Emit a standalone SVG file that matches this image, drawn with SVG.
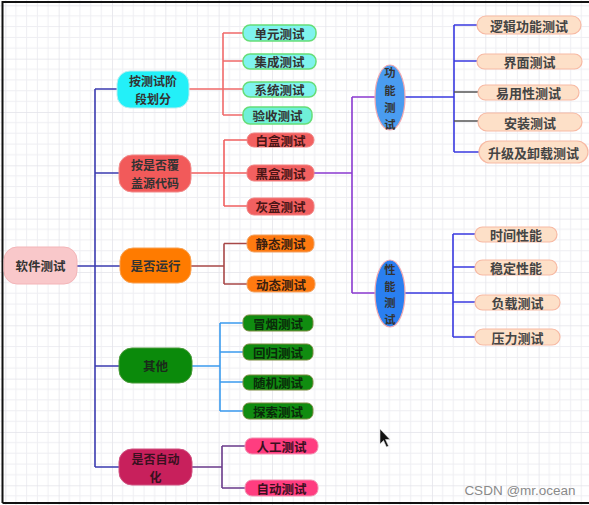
<svg xmlns="http://www.w3.org/2000/svg" width="589" height="505" viewBox="0 0 589 505">
<defs>
<pattern id="grid" patternUnits="userSpaceOnUse" x="5.33" y="5.33" width="53.33" height="53.33">
<path d="M0 0V53.33M10.67 0V53.33M21.33 0V53.33M32 0V53.33M42.67 0V53.33M0 0H53.33M0 10.67H53.33M0 21.33H53.33M0 32H53.33M0 42.67H53.33" fill="none" stroke="#eeeef2" stroke-width="1"/>
<path d="M0 0V53.33M0 0H53.33" fill="none" stroke="#e4e4ea" stroke-width="1.4"/>
</pattern>
<style>
text{font-family:"Noto Sans CJK SC","Noto Sans",sans-serif;font-weight:bold;text-anchor:middle;dominant-baseline:central;fill:#333}
.t1{font-size:12.5px}
.t1m{font-size:12px}
.t2{font-size:12.5px}
.t3{font-size:13px;fill:#444}
.v{font-size:11.3px;fill:#333}
.c{fill:none;stroke-width:1.6}
.l3{fill:#fde0c8;stroke:#f7b9a3;stroke-width:1.2}
</style>
</defs>
<rect width="589" height="505" fill="#fff"/>
<rect width="589" height="505" fill="url(#grid)"/>
<path d="M2.5 503V2H589M2.5 503H589" fill="none" stroke="#111" stroke-width="2"/>

<g id="connectors">
<path class="c" d="M95 89V467M95 89H117M95 173H119M77 266H120M95 366H119M95 467H119" stroke="#3b3bb0" stroke-width="2"/>
<path class="c" d="M189 89H223M223 33V115M223 33H243M223 61H243M223 89H243M223 115H243" stroke="#f06a6a"/>
<path class="c" d="M191 173H224M224 140V206M224 140H247M224 173H247M224 206H247" stroke="#f06060"/>
<path class="c" d="M191 266H224M224 243.5V284M224 243.5H247M224 284H247" stroke="#a84848"/>
<path class="c" d="M192 366H220M220 323V411M220 323H243M220 352H243M220 382H243M220 411H243" stroke="#3b9bee"/>
<path class="c" d="M192 467H222M222 446V488M222 446H245M222 488H245" stroke="#6a3a8a"/>
<path class="c" d="M314 173H352M352 97V293M352 97H375M352 293H375" stroke="#8a3ad0"/>
<path class="c" d="M405 97H454M454 25V152M454 25H477M454 61H477M454 152H479" stroke="#3a3ae0"/>
<path class="c" d="M454 92H478M454 121H478" stroke="#555"/>
<path class="c" d="M405 293H453M453 234V337M453 234H475M453 267H475M453 302H475M453 337H475" stroke="#3a3ae0"/>
</g>

<g id="root"><rect x="4" y="247" width="73" height="37" rx="13" fill="#f9c8ca" stroke="#f3b5b8"/><text class="t1" x="40.5" y="265.5">软件测试</text></g>

<g id="n1"><rect x="117" y="71" width="72" height="37" rx="13" fill="#23f0f8" stroke="#b8eef0"/><text class="t1m" x="153" y="80.5">按测试阶</text><text class="t1m" x="153" y="98">段划分</text></g>
<g id="n2"><rect x="119" y="155" width="72" height="37" rx="13" fill="#f25a5a" stroke="#f08a8a"/><text class="t1m" x="155" y="164.5">按是否覆</text><text class="t1m" x="155" y="182">盖源代码</text></g>
<g id="n3"><rect x="120" y="248" width="71" height="35" rx="13" fill="#ff7b00" stroke="#f8a050"/><text class="t1" x="155.5" y="265.5">是否运行</text></g>
<g id="n4"><rect x="119" y="348" width="73" height="35" rx="13" fill="#0b8a0b" stroke="#4a9a3a"/><text class="t1" x="155.5" y="365.5" style="fill:#1a2a1a">其他</text></g>
<g id="n5"><rect x="119" y="449" width="73" height="36" rx="13" fill="#c8205c" stroke="#d05080"/><text class="t1m" x="155.5" y="458.5" style="fill:#3a1020">是否自动</text><text class="t1m" x="155.5" y="476" style="fill:#3a1020">化</text></g>

<g id="s1"><rect x="243" y="25" width="73" height="16" rx="7" fill="#7ff3ee" stroke="#66dd77" stroke-width="1.5"/><text class="t2" x="279.5" y="33">单元测试</text></g>
<g id="s2"><rect x="243" y="54" width="73" height="15" rx="7" fill="#7ff3ee" stroke="#66dd77" stroke-width="1.5"/><text class="t2" x="279.5" y="61.5">集成测试</text></g>
<g id="s3"><rect x="243" y="82" width="73" height="15" rx="7" fill="#7ff3ee" stroke="#66dd77" stroke-width="1.5"/><text class="t2" x="279.5" y="89.5">系统测试</text></g>
<g id="s4"><rect x="243" y="107" width="69" height="17" rx="7" fill="#6ff0d8" stroke="#66dd77" stroke-width="1.5"/><text class="t2" x="277.5" y="115.5">验收测试</text></g>

<g id="s5"><rect x="247" y="133" width="67" height="14" rx="7" fill="#f26060" stroke="#f08080"/><text class="t2" x="280.5" y="140" style="fill:#4a1515">白盒测试</text></g>
<g id="s6"><rect x="247" y="165" width="67" height="16" rx="7" fill="#f26060" stroke="#f08080"/><text class="t2" x="280.5" y="173" style="fill:#4a1515">黑盒测试</text></g>
<g id="s7"><rect x="247" y="198" width="67" height="17" rx="7" fill="#f26060" stroke="#f08080"/><text class="t2" x="280.5" y="206.5" style="fill:#4a1515">灰盒测试</text></g>

<g id="s8"><rect x="247" y="235" width="67" height="17" rx="7" fill="#ff7a10" stroke="#f0a060"/><text class="t2" x="280.5" y="243.5" style="fill:#3a2010">静态测试</text></g>
<g id="s9"><rect x="247" y="276" width="68" height="16" rx="7" fill="#ff7a10" stroke="#f0a060"/><text class="t2" x="281" y="284" style="fill:#3a2010">动态测试</text></g>

<g id="s10"><rect x="243" y="315" width="70" height="16" rx="6" fill="#108c10" stroke="#7a8a40"/><text class="t2" x="278" y="323" style="fill:#0a2a0a">冒烟测试</text></g>
<g id="s11"><rect x="243" y="344" width="70" height="16" rx="6" fill="#108c10" stroke="#7a8a40"/><text class="t2" x="278" y="352" style="fill:#0a2a0a">回归测试</text></g>
<g id="s12"><rect x="243" y="375" width="70" height="15" rx="6" fill="#108c10" stroke="#7a8a40"/><text class="t2" x="278" y="382.5" style="fill:#0a2a0a">随机测试</text></g>
<g id="s13"><rect x="243" y="403" width="70" height="16" rx="6" fill="#108c10" stroke="#7a8a40"/><text class="t2" x="278" y="411" style="fill:#0a2a0a">探索测试</text></g>

<g id="s14"><rect x="245" y="438" width="73" height="16" rx="7" fill="#ff3d80" stroke="#f090b0"/><text class="t2" x="281.5" y="446" style="fill:#3a1020">人工测试</text></g>
<g id="s15"><rect x="245" y="480" width="73" height="16" rx="7" fill="#ff3d80" stroke="#f090b0"/><text class="t2" x="281.5" y="488" style="fill:#3a1020">自动测试</text></g>

<g id="f"><ellipse cx="390" cy="97.5" rx="15" ry="32.5" fill="#4a9cf0" stroke="#f0a8b0" stroke-width="1.2"/><text class="v" x="390" y="72">功</text><text class="v" x="390" y="89.5">能</text><text class="v" x="390" y="107">测</text><text class="v" x="390" y="124">试</text></g>
<g id="p"><ellipse cx="390" cy="293.5" rx="15" ry="33.5" fill="#2a7ff0" stroke="#f0a8b0" stroke-width="1.2"/><text class="v" x="390" y="269">性</text><text class="v" x="390" y="285.5">能</text><text class="v" x="390" y="302">测</text><text class="v" x="390" y="318.5">试</text></g>

<g id="f1"><rect class="l3" x="477" y="16" width="104" height="18" rx="9"/><text class="t3" x="529" y="25">逻辑功能测试</text></g>
<g id="f2"><rect class="l3" x="477" y="54" width="105" height="15" rx="7.5"/><text class="t3" x="529.5" y="61.5">界面测试</text></g>
<g id="f3"><rect class="l3" x="478" y="85" width="101" height="15" rx="7.5"/><text class="t3" x="528.5" y="92.5">易用性测试</text></g>
<g id="f4"><rect class="l3" x="478" y="113" width="104" height="18" rx="9"/><text class="t3" x="530" y="122">安装测试</text></g>
<g id="f5"><rect class="l3" x="479" y="141" width="109" height="22" rx="11"/><text class="t3" x="533.5" y="152">升级及卸载测试</text></g>

<g id="p1"><rect class="l3" x="475" y="227" width="82" height="15" rx="7.5"/><text class="t3" x="516" y="234.5">时间性能</text></g>
<g id="p2"><rect class="l3" x="475" y="260" width="82" height="15" rx="7.5"/><text class="t3" x="516" y="267.5">稳定性能</text></g>
<g id="p3"><rect class="l3" x="475" y="295" width="85" height="15" rx="7.5"/><text class="t3" x="517.5" y="302.5">负载测试</text></g>
<g id="p4"><rect class="l3" x="475" y="329" width="85" height="16" rx="8"/><text class="t3" x="517.5" y="337">压力测试</text></g>

<path d="M380 429V444L383.5 440.5L386.5 447L388.5 446L385.5 439.5H390Z" fill="#111" stroke="#ddd" stroke-width="0.6"/>
<text x="520" y="490" style="font-family:'Liberation Sans',Arial,sans-serif;font-weight:normal;font-size:13.5px;fill:#8a8a8a">CSDN @mr.ocean</text>
</svg>
